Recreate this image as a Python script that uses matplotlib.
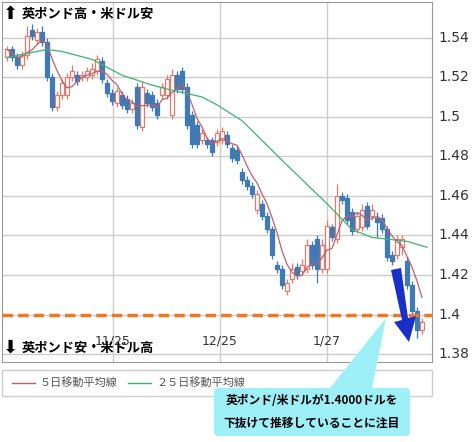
import matplotlib
matplotlib.use("Agg")
import matplotlib.pyplot as plt
import numpy as np
import pandas as pd
from matplotlib.patches import Rectangle, Polygon, FancyBboxPatch

plt.rcParams['font.family'] = ['Noto Sans CJK JP', 'DejaVu Sans']

opens = [1.530,1.534,1.530,1.526,1.531,1.544,1.539,1.543,1.538,1.520,1.505,1.511,1.511,1.520,1.521,1.520,1.520,1.521,1.523,1.528,
         1.517,1.512,1.507,1.511,1.509,1.504,1.515,1.495,1.512,1.511,1.507,1.511,1.511,1.501,1.521,1.523,1.515,1.501,1.496,1.488,
         1.488,1.488,1.487,1.488,1.491,1.484,1.483,1.472,1.468,1.465,1.453,1.456,1.450,1.443,1.425,1.423,1.412,1.418,1.424,1.422,
         1.423,1.435,1.438,1.423,1.423,1.444,1.438,1.460,1.459,1.452,1.443,1.444,1.455,1.450,1.449,1.449,1.443,1.430,1.430,1.434,
         1.427,1.415,1.402,1.392]
closes = [1.534,1.530,1.526,1.531,1.541,1.541,1.543,1.538,1.520,1.505,1.511,1.517,1.520,1.523,1.518,1.521,1.523,1.524,1.529,1.519,
          1.512,1.508,1.513,1.506,1.504,1.507,1.496,1.515,1.507,1.505,1.501,1.515,1.519,1.521,1.514,1.514,1.496,1.486,1.486,1.492,
          1.486,1.482,1.492,1.493,1.486,1.479,1.478,1.468,1.465,1.461,1.461,1.450,1.443,1.430,1.423,1.415,1.416,1.423,1.420,1.425,
          1.435,1.425,1.423,1.435,1.445,1.439,1.460,1.458,1.448,1.442,1.450,1.453,1.445,1.453,1.447,1.443,1.429,1.427,1.438,1.438,
          1.415,1.402,1.392,1.396]
highs = [1.536,1.536,1.532,1.533,1.546,1.547,1.545,1.546,1.540,1.522,1.513,1.519,1.522,1.526,1.523,1.523,1.525,1.527,1.531,1.530,
         1.519,1.514,1.515,1.513,1.511,1.509,1.517,1.518,1.514,1.513,1.509,1.517,1.521,1.524,1.523,1.525,1.517,1.503,1.498,1.494,
         1.490,1.490,1.494,1.495,1.493,1.486,1.485,1.474,1.470,1.467,1.463,1.458,1.452,1.445,1.427,1.425,1.418,1.426,1.426,1.428,
         1.438,1.437,1.440,1.438,1.448,1.446,1.466,1.462,1.461,1.454,1.452,1.456,1.457,1.456,1.452,1.451,1.445,1.432,1.440,1.440,
         1.429,1.417,1.404,1.398]
lows = [1.528,1.528,1.524,1.524,1.529,1.539,1.537,1.536,1.518,1.503,1.503,1.509,1.509,1.518,1.516,1.518,1.518,1.519,1.521,1.517,
        1.510,1.506,1.505,1.504,1.502,1.502,1.494,1.493,1.505,1.503,1.499,1.509,1.509,1.499,1.512,1.512,1.494,1.484,1.484,1.486,
        1.484,1.480,1.485,1.486,1.484,1.477,1.476,1.466,1.463,1.459,1.451,1.448,1.441,1.428,1.421,1.413,1.410,1.416,1.418,1.420,
        1.421,1.423,1.416,1.421,1.421,1.437,1.436,1.456,1.446,1.440,1.441,1.442,1.443,1.448,1.439,1.441,1.427,1.425,1.428,1.430,
        1.413,1.400,1.388,1.390]
ma25_idx = [0, 8, 11, 17, 23, 29, 32, 39, 42, 47, 55, 64, 69, 73, 80, 84]
ma25_val = [1.530,1.534,1.533,1.529,1.521,1.516,1.514,1.510,1.506,1.498,1.478,1.456,1.443,1.439,1.437,1.434]
yticks = [1.38, 1.40, 1.42, 1.44, 1.46, 1.48, 1.50, 1.52, 1.54]
ytick_labels = ["1.38", "1.4", "1.42", "1.44", "1.46", "1.48", "1.5", "1.52", "1.54"]
xtick_pos = [21.2, 42.6, 64]
xtick_labels = ["11/25", "12/25", "1/27"]
level = 1.40

W, Hh = 476, 442
fig = plt.figure(figsize=(W/100, Hh/100), dpi=100)
ax = fig.add_axes([2/W, 1-362/Hh, 430/W, 360/Hh])
n = len(opens)
x = np.arange(n)
ax.set_xlim(-1, 85)
ax.set_ylim(1.376, 1.558)

for t in yticks:
    ax.axhline(t, color='#cccccc', lw=1, zorder=0)
for t in xtick_pos:
    ax.axvline(t, color='#cccccc', lw=1, zorder=0)

blue = '#3f7ab5'; red = '#e07a6a'
for i in range(n):
    o, c = opens[i], closes[i]
    col = blue if c < o else red
    ax.vlines(i, lows[i], highs[i], color=col, lw=0.9, zorder=2)
    lo, hi = min(o, c), max(o, c)
    ax.add_patch(Rectangle((i-0.36, lo), 0.72, max(hi-lo, 0.0006),
                           facecolor=blue if c < o else 'white', edgecolor=col, lw=0.9, zorder=3))

ma5 = pd.Series(closes).rolling(5, min_periods=1).mean()
ax.plot(x, ma5, color='#c0606e', lw=0.9, zorder=4)
ax.plot(ma25_idx, ma25_val, color='#3cb371', lw=0.9, zorder=4)
ax.axhline(level, color='#f07820', lw=2.5, ls=(0, (3, 1.5)), zorder=5)

ax.set_xticks([]); ax.set_yticks([])
for s in ax.spines.values():
    s.set_color('#999999')
for t, lab in zip(yticks, ytick_labels):
    ax.text(1.015, t, lab, transform=ax.get_yaxis_transform(), va='center', ha='left', fontsize=10, color='#333333', family='DejaVu Sans')
for t, lab in zip(xtick_pos, xtick_labels):
    ax.text(t, 1.3865, lab, ha='center', va='center', fontsize=9, color='#333333', family='DejaVu Sans')

# blue arrow
fig.patches.append(Polygon([(391/W, 1-270/Hh), (401/W, 1-268/Hh), (408/W, 1-318/Hh), (416/W, 1-316/Hh),
                            (409/W, 1-342/Hh), (394/W, 1-322/Hh), (402/W, 1-320/Hh)], closed=True,
                           transform=fig.transFigure, facecolor='#1a2fc8', edgecolor='none', zorder=9))

# top/bottom labels
fig.text(3/W, 1-14/Hh, '⬆', fontsize=13, va='center', ha='left', family=['DejaVu Sans'])
fig.text(22/W, 1-14/Hh, '英ポンド高・米ドル安', fontsize=9.5, fontweight='bold', va='center', ha='left')
fig.text(3/W, 1-348/Hh, '⬇', fontsize=13, va='center', ha='left', family=['DejaVu Sans'])
fig.text(22/W, 1-348/Hh, '英ポンド安・米ドル高', fontsize=9.5, fontweight='bold', va='center', ha='left')

# legend area
fig.patches.append(Rectangle((2/W, 1-396/Hh), 430/W, 26/Hh, transform=fig.transFigure,
                             facecolor='white', edgecolor='#cccccc', lw=1))
fig.lines.append(plt.Line2D([12/W, 35/W], [1-383/Hh]*2, transform=fig.transFigure, color='#c0606e', lw=1))
fig.text(40/W, 1-383/Hh, '５日移動平均線', fontsize=8, va='center', color='#555555')
fig.lines.append(plt.Line2D([128/W, 151/W], [1-383/Hh]*2, transform=fig.transFigure, color='#3cb371', lw=1))
fig.text(156/W, 1-383/Hh, '２５日移動平均線', fontsize=8, va='center', color='#555555')

# callout
cy = '#9ef0f8'
fig.patches.append(Polygon([(330/W, 1-388/Hh), (372/W, 1-388/Hh), (386/W, 1-318/Hh)], closed=True,
                           transform=fig.transFigure, facecolor=cy, edgecolor='none', zorder=10))
fig.patches.append(FancyBboxPatch((214/W, 1-436/Hh), 196/W, 48/Hh, boxstyle='round,pad=0,rounding_size=0.01',
                                  transform=fig.transFigure, facecolor=cy, edgecolor='none', zorder=10))
fig.text(312/W, 1-401/Hh, '英ポンド/米ドルが1.4000ドルを', fontsize=8.5, fontweight='bold', ha='center', va='center', zorder=11)
fig.text(312/W, 1-423/Hh, '下抜けて推移していることに注目', fontsize=8.5, fontweight='bold', ha='center', va='center', zorder=11)

fig.savefig('out.png', dpi=100)
